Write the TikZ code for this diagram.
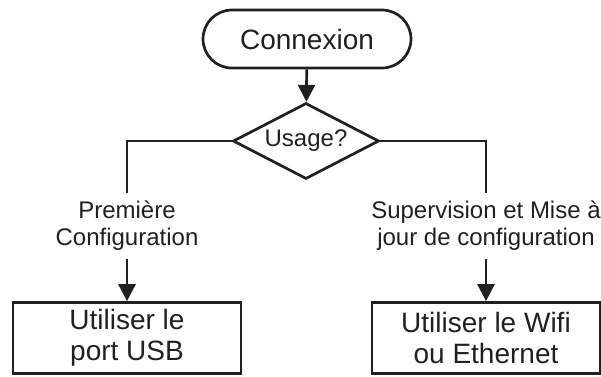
\documentclass[tikz,border=0pt]{standalone}
\usepackage{fontspec}
\setmainfont{Liberation Sans}
\usetikzlibrary{shapes.geometric,arrows.meta}
\definecolor{ink}{HTML}{231F20}
\begin{document}
\begin{tikzpicture}[x=1pt,y=-1pt,
  line width=2.7pt, draw=ink, text=ink,
  every node/.style={align=center, font=\fontsize{28}{31}\selectfont},
  term/.style={draw, rounded corners=29pt, minimum width=208pt, minimum height=58pt, inner sep=0pt},
  decision/.style={draw, diamond, aspect=1.92, minimum width=146pt, minimum height=76pt, inner sep=0pt, font=\fontsize{24}{27}\selectfont},
  actbox/.style={draw, rectangle, minimum width=228pt, minimum height=71pt, inner sep=0pt},
  choice/.style={inner sep=7pt, font=\fontsize{24}{27}\selectfont},
  arr/.style={-{Triangle[width=17pt,length=17pt]}}
]
\useasboundingbox (0,0) rectangle (601,376);
\node[term] (start) at (307,39) {Connexion};
\node[decision] (dec) at (306,141) {Usage?};
\node[actbox] (boxL) at (127,338) {Utiliser le\\port USB};
\node[actbox] (boxR) at (486,338) {Utiliser le Wifi\\ou Ethernet};
\node[choice] (labL) at (127,226) {Première\\Configuration};
\node[choice] (labR) at (486,226) {Supervision et Mise à\\jour de configuration};
\draw[arr] (start) -- (dec);
\draw (dec.west) -| (labL.north);
\draw (dec.east) -| (labR.north);
\draw[arr] (labL.south) -- (boxL.north);
\draw[arr] (labR.south) -- (boxR.north);
\end{tikzpicture}
\end{document}
